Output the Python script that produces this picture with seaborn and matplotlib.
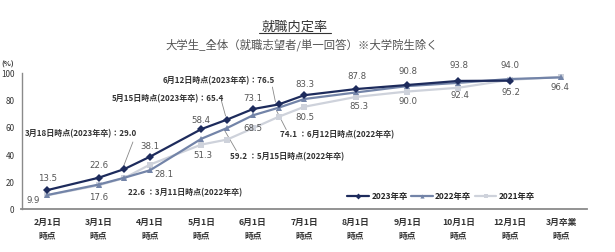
import matplotlib
matplotlib.use("Agg")
import matplotlib.pyplot as plt
from matplotlib.lines import Line2D
import numpy as np
import pandas as pd
import seaborn as sns

# ---------------- data ----------------
main_keys = ["2/1", "3/1", "4/1", "5/1", "6/1", "7/1", "8/1", "9/1", "10/1", "12/1", "3/卒業"]
cat_labels = ["2月1日\n時点", "3月1日\n時点", "4月1日\n時点", "5月1日\n時点", "6月1日\n時点",
              "7月1日\n時点", "8月1日\n時点", "9月1日\n時点", "10月1日\n時点", "12月1日\n時点",
              "3月卒業\n時点"]

keys_2023 = ["2/1", "3/1", "3/18", "4/1", "5/1", "5/15", "6/1", "6/12", "7/1", "8/1", "9/1", "10/1", "12/1"]
vals_2023 = [13.5, 22.6, 29.0, 38.1, 58.4, 65.4, 73.1, 76.5, 83.3, 87.8, 90.8, 93.8, 94.0]

keys_2022 = ["2/1", "3/1", "3/11", "4/1", "5/1", "5/15", "6/1", "6/12", "7/1", "8/1", "9/1", "10/1", "12/1", "3/卒業"]
vals_2022 = [9.9, 17.6, 22.6, 28.1, 51.3, 59.2, 68.5, 74.1, 80.5, 85.3, 90.0, 92.4, 95.2, 96.4]

keys_2021 = ["2/1", "3/1", "3/11", "4/1", "5/1", "5/15", "6/1", "6/12", "7/1", "8/1", "9/1", "10/1", "12/1", "3/卒業"]
vals_2021 = [9.7, 17.1, 22.4, 32.3, 47.0, 50.7, 59.0, 67.4, 74.8, 82.0, 86.0, 88.8, 94.6, 96.8]

series_names = ["2023年卒", "2022年卒", "2021年卒"]

title = "就職内定率"
subtitle = "大学生_全体（就職志望者/単一回答）※大学院生除く"


def pos(k):
    if k in main_keys:
        return main_keys.index(k)
    m = k.split("/")[0]
    return main_keys.index(m + "/1") + 0.5


rows = []
for name, ks, vs in zip(series_names, [keys_2023, keys_2022, keys_2021], [vals_2023, vals_2022, vals_2021]):
    for k, v in zip(ks, vs):
        rows.append({"series": name, "key": k, "x": pos(k), "value": v})
df = pd.DataFrame(rows)

# ---------------- style ----------------
sns.set_theme(style="white")
plt.rcParams["font.family"] = ["Noto Sans CJK JP", "DejaVu Sans"]

colors = {"2023年卒": "#1d2b5c", "2022年卒": "#7384a8", "2021年卒": "#ced2db"}
markers = {"2023年卒": "D", "2022年卒": "^", "2021年卒": "s"}
msizes = {"2023年卒": 3.8, "2022年卒": 4.5, "2021年卒": 4.2}

fig = plt.figure(figsize=(6.15, 2.53), dpi=100)
ax = fig.add_axes([21.5 / 615, 1 - 209.5 / 253, (587 - 21.5) / 615, 136 / 253])

order = ["2021年卒", "2022年卒", "2023年卒"]
for name in order:
    sub = df[df["series"] == name]
    sns.lineplot(data=sub, x="x", y="value", ax=ax, color=colors[name], marker=markers[name],
                 markersize=msizes[name], markeredgewidth=0,
                 linewidth=1.6, sort=False, legend=False)

ax.set_xlim(-0.5, 10.5)
ax.set_ylim(0, 100)
ax.set_xticks(range(len(main_keys)))
ax.set_xticklabels(cat_labels, fontsize=6.3, fontweight="bold", color="#333333", linespacing=1.75)
ax.set_yticks([0, 20, 40, 60, 80, 100])
ax.set_yticklabels(["0", "20", "40", "60", "80", "100"], fontsize=5.8, color="#333333")
ax.tick_params(axis="x", length=0, pad=6)
ax.tick_params(axis="y", length=0, pad=5)
ax.set_xlabel("")
ax.set_ylabel("")
for s in ["top", "right"]:
    ax.spines[s].set_visible(False)
ax.spines["left"].set_color("#8a8a8a")
ax.spines["bottom"].set_color("#8a8a8a")
ax.spines["left"].set_linewidth(1.0)
ax.spines["bottom"].set_linewidth(1.3)
ax.grid(False)

fig.text(1 / 615, 1 - 64 / 253, "(%)", fontsize=5.3, color="#333333", ha="left", va="center",
         fontweight="bold")

# value labels (offsets in pixels)
lab_2023 = {"2/1": (0, 13), "3/1": (0, 13), "4/1": (0, 11), "5/1": (0, 10), "6/1": (0, 12),
            "7/1": (1, 12), "8/1": (1, 14), "9/1": (1, 15), "10/1": (1, 16), "12/1": (0, 16)}
lab_2022 = {"2/1": (-14, -4), "3/1": (0, -12), "4/1": (14, -3), "5/1": (2, -16), "6/1": (0, -12),
            "7/1": (1, -17), "8/1": (3, -13), "9/1": (1, -14), "10/1": (2, -12), "12/1": (1, -12),
            "3/卒業": (-1, -9)}
for ks, vs, labs in [(keys_2023, vals_2023, lab_2023), (keys_2022, vals_2022, lab_2022)]:
    for k, v in zip(ks, vs):
        if k in labs:
            ax.annotate(f"{v:.1f}", (pos(k), v), xytext=labs[k], textcoords="offset pixels",
                        ha="center", va="center", fontsize=6.2, color="#555555",
                        family="DejaVu Sans")

# callout annotations
ann_style = dict(fontsize=5.8, fontweight="bold", color="#333333", ha="left", va="center")
ax.text(-0.43, 55.5, f"3月18日時点(2023年卒)：{vals_2023[2]:.1f}", **ann_style)
ax.text(1.26, 81.3, f"5月15日時点(2023年卒)：{vals_2023[5]:.1f}", **ann_style)
ax.text(2.25, 94.5, f"6月12日時点(2023年卒)：{vals_2023[7]:.1f}", **ann_style)
ax.text(1.57, 12.1, f"{vals_2022[2]:.1f} ：3月11日時点(2022年卒)", **ann_style)
ax.text(3.55, 38.8, f"{vals_2022[5]:.1f} ：5月15日時点(2022年卒)", **ann_style)
ax.text(4.52, 54.8, f"{vals_2022[7]:.1f} ：6月12日時点(2022年卒)", **ann_style)

leaders = [((1.667, 48.9), (1.49, 31.5)),
           ((3.39, 79.0), (3.47, 68.0)),
           ((4.38, 89.3), (4.44, 78.3)),
           ((4.46, 72.0), (4.65, 58.0)),
           ((3.45, 57.5), (3.68, 42.5))]
for (x0, y0), (x1, y1) in leaders:
    ax.plot([x0, x1], [y0, y1], color="#888888", linewidth=0.6, zorder=1)

# legend
handles = [Line2D([], [], color=colors[n], marker=markers[n], markersize=3, markeredgewidth=0,
                  linewidth=1.6) for n in series_names]
ax.legend(handles, series_names, loc="center", bbox_to_anchor=(0.742, 0.092), ncol=3,
          frameon=False, handlelength=2.6, handletextpad=0.3, columnspacing=0.4,
          prop={"weight": "bold", "size": 6.0})

# titles
fig.text(295 / 615, 1 - 27 / 253, title, fontsize=9.5, ha="center", va="center", color="#333333")
fig.add_artist(Line2D([259 / 615, 331 / 615], [1 - 34 / 253, 1 - 34 / 253], color="#333333",
                      linewidth=0.8))
fig.text(302 / 615, 1 - 45 / 253, subtitle, fontsize=8.2, ha="center", va="center", color="#555555")

fig.savefig("out.png", dpi=100)
